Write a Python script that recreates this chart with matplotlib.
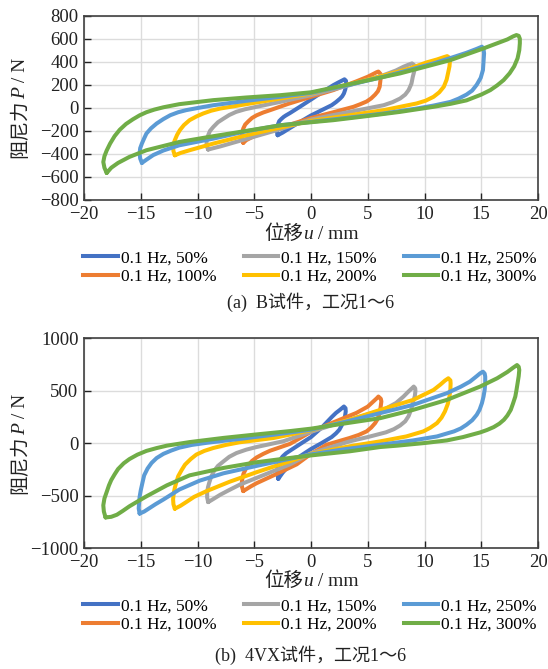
import matplotlib
matplotlib.use("Agg")
import matplotlib.pyplot as plt
from matplotlib.lines import Line2D
from matplotlib.offsetbox import TextArea, HPacker, AnnotationBbox

SERIF = "Liberation Serif"
CJK = "Noto Sans CJK SC"
plt.rcParams["font.family"] = [SERIF, CJK]
plt.rcParams["axes.unicode_minus"] = True

W, H = 548, 669

# ---- legend labels and colours (amplitude ratio at 0.1 Hz) ----
series_labels = ["0.1 Hz, 50%", "0.1 Hz, 100%", "0.1 Hz, 150%",
                 "0.1 Hz, 200%", "0.1 Hz, 250%", "0.1 Hz, 300%"]
series_colors = ["#4472C4", "#ED7D31", "#A5A5A5", "#FFC000", "#5B9BD5", "#70AD47"]
x_ticks = [-20, -15, -10, -5, 0, 5, 10, 15, 20]
yticks_B = [-800, -600, -400, -200, 0, 200, 400, 600, 800]
yticks_V = [-1000, -500, 0, 500, 1000]

# ---- specimen B: displacement u (mm) and damping force P (N), one closed loop per case ----
B50_u = [-2.94, -3.00, -3.00, -2.95, -2.90, -2.80, -2.60, -2.40, -2.20, -1.85, -0.97, 0.00,
         0.94, 1.97, 2.40, 2.70, 2.95, 3.08, 3.10, 3.07, 3.02, 2.90, 2.75, 2.56, 2.20, 1.82,
         0.94, 0.00, -0.97, -1.85, -2.50, -2.94]
B50_P = [-238, -210, -190, -160, -140, -115, -95, -78, -65, -45, 10, 72,
         133, 197, 220, 235, 248, 235, 212, 185, 160, 125, 100, 80, 50, 23,
         -20, -66, -122, -175, -215, -238]

B100_u = [-5.97, -6.08, -6.10, -6.05, -5.97, -5.80, -5.50, -5.20, -4.80, -4.20, -3.60, -2.00,
          0.00, 1.97, 4.00, 5.00, 5.50, 5.80, 5.94, 6.12, 6.15, 6.10, 6.05, 5.90, 5.65, 5.30,
          4.90, 4.30, 3.74, 1.97, 0.00, -1.85, -3.90, -5.00, -5.70, -5.97]
B100_P = [-304, -270, -240, -210, -180, -145, -115, -88, -65, -40, -20, 35,
          96, 154, 230, 270, 295, 310, 315, 295, 270, 225, 183, 145, 115, 82,
          55, 30, 9, -38, -88, -145, -205, -245, -280, -304]

B150_u = [-9.06, -9.20, -9.20, -9.15, -9.06, -8.90, -8.60, -8.20, -7.70, -7.20, -6.60, -5.80,
          -4.80, -2.70, 0.00, 3.40, 6.40, 7.50, 8.15, 8.60, 8.90, 9.10, 9.15, 9.05, 8.97, 8.85,
          8.60, 8.30, 7.85, 7.20, 6.40, 3.40, 0.00, -2.70, -5.70, -8.00, -8.60, -9.06]
B150_P = [-362, -330, -296, -265, -238, -200, -165, -125, -93, -62, -35, -12,
          9, 52, 110, 197, 284, 325, 357, 375, 386, 370, 342, 300, 270, 210,
          154, 115, 81, 50, 23, -35, -101, -185, -270, -335, -350, -362]

B200_u = [-12.0, -12.12, -12.15, -12.1, -12.0, -11.8, -11.56, -11.2, -10.7, -10.1, -9.5, -8.8,
          -8.0, -5.7, -2.7, 0.0, 4.9, 8.7, 10.2, 11.1, 11.7, 12.0, 12.2, 12.25, 12.2, 12.1,
          11.95, 11.7, 11.3, 10.8, 10.1, 9.3, 6.4, 3.4, 0.0, -2.7, -5.7, -8.6, -10.7, -11.5,
          -12.0]
B200_P = [-412, -375, -339, -310, -281, -235, -194, -150, -107, -75, -49, -25,
          -6, 32, 81, 125, 241, 342, 395, 420, 440, 449, 435, 415, 360, 313,
          245, 183, 135, 96, 62, 38, -20, -64, -113, -171, -238, -310, -368, -392,
          -412]

B250_u = [-14.9, -15.05, -15.1, -15.05, -14.9, -14.7, -14.5, -14.1, -13.6, -13.0, -12.4, -11.7,
          -11.0, -9.8, -8.6, -5.7, -2.7, 0.0, 3.4, 6.4, 8.7, 10.8, 12.4, 13.7, 14.6, 15.06,
          15.2, 15.25, 15.2, 15.15, 14.95, 14.6, 14.2, 13.7, 13.0, 12.3, 10.8, 9.3, 6.4, 3.4,
          0.0, -2.7, -5.7, -8.6, -11.6, -13.0, -13.9, -14.5, -14.9]
B250_P = [-478, -440, -397, -350, -310, -265, -223, -178, -136, -97, -64, -38,
          -20, 2, 23, 61, 96, 130, 200, 270, 330, 386, 436, 478, 512, 531,
          510, 473, 400, 328, 260, 200, 150, 115, 80, 52, 20, -6, -49, -84,
          -122, -151, -203, -267, -325, -370, -410, -450, -478]

B300_u = [-18.0, -18.2, -18.3, -18.2, -18.0, -17.7, -17.3, -16.85, -16.3, -15.7, -15.1, -14.5,
          -13.8, -13.0, -11.6, -8.6, -5.7, -2.7, 0.0, 3.44, 7.85, 12.3, 15.2, 17.3, 17.8, 18.1,
          18.3, 18.4, 18.4, 18.35, 18.2, 17.9, 17.5, 16.97, 16.4, 15.8, 15.0, 13.7, 12.3, 10.8,
          7.85, 4.9, 1.97, 0.0, -2.7, -5.7, -8.6, -11.6, -14.5, -16.0, -17.0, -17.6, -18.0]
B300_P = [-565, -520, -470, -420, -370, -310, -245, -190, -140, -100, -65, -38,
          -15, 5, 32, 67, 90, 110, 135, 206, 299, 415, 516, 594, 620, 632,
          625, 600, 560, 500, 430, 360, 300, 241, 195, 154, 115, 65, 35, 9,
          -35, -72, -107, -125, -151, -200, -246, -296, -368, -426, -478, -520, -565]

# ---- specimen 4VX ----
V50_u = [-2.88, -2.95, -2.97, -2.93, -2.85, -2.70, -2.50, -2.20, -1.85, -1.00, 0.00, 0.94,
         1.82, 2.20, 2.56, 2.90, 3.04, 3.06, 3.00, 2.85, 2.70, 2.50, 2.20, 1.82, 0.94, 0.00,
         -0.97, -1.85, -2.50, -2.88]
V50_P = [-338, -300, -265, -225, -190, -155, -125, -95, -70, -10, 60, 150,
         250, 290, 320, 351, 335, 304, 260, 209, 170, 130, 95, 60, 3, -54,
         -123, -200, -280, -338]

V100_u = [-5.97, -6.08, -6.10, -6.05, -5.95, -5.75, -5.50, -5.20, -4.80, -4.20, -3.60, -1.85,
          0.00, 1.97, 4.00, 5.00, 5.50, 5.80, 5.94, 6.15, 6.20, 6.12, 6.00, 5.85, 5.65, 5.30,
          4.90, 4.20, 3.40, 1.38, 0.00, -1.26, -3.00, -4.80, -5.30, -5.60, -5.97]
V100_P = [-455, -415, -380, -335, -290, -245, -205, -168, -135, -100, -70, -5,
          110, 200, 290, 350, 400, 430, 446, 425, 399, 335, 272, 228, 193, 150,
          114, 80, 51, -13, -100, -200, -290, -380, -410, -430, -455]

V150_u = [-9.06, -9.15, -9.15, -9.08, -8.97, -8.80, -8.56, -8.20, -7.70, -7.20, -6.56, -5.70,
          -4.80, -2.44, 0.00, 3.40, 6.40, 7.50, 8.15, 8.60, 8.90, 9.05, 9.18, 9.20, 9.15, 9.00,
          8.85, 8.60, 8.30, 7.85, 7.30, 6.60, 5.00, 3.40, 0.00, -1.85, -3.90, -6.30, -7.30,
          -8.00, -8.60, -9.06]
V150_P = [-560, -515, -471, -420, -376, -320, -266, -215, -171, -128, -92, -60,
          -35, 20, 110, 225, 320, 385, 446, 495, 525, 541, 525, 500, 450, 398,
          330, 260, 210, 170, 135, 105, 60, 19, -95, -200, -290, -395, -450,
          -490, -530, -560]

V200_u = [-12.0, -12.12, -12.15, -12.1, -12.0, -11.85, -11.7, -11.4, -11.1, -10.6, -10.1, -9.4,
          -8.6, -7.5, -6.3, -3.3, 0.0, 3.4, 6.1, 9.0, 10.8, 11.4, 11.8, 12.1, 12.28, 12.3,
          12.28, 12.2, 12.05, 11.8, 11.5, 11.1, 10.5, 9.9, 8.4, 6.1, 3.4, 0.0, -1.85, -4.8,
          -7.15, -9.2, -10.3, -11.0, -11.5, -12.0]
V200_P = [-623, -580, -534, -480, -424, -365, -313, -255, -203, -150, -107, -72,
          -44, -15, 10, 51, 125, 225, 319, 414, 509, 560, 598, 620, 600, 572,
          510, 446, 375, 304, 245, 193, 148, 114, 66, 19, -28, -100, -170, -275,
          -365, -455, -510, -560, -595, -623]

V250_u = [-15.1, -15.18, -15.15, -15.1, -15.0, -14.85, -14.7, -14.4, -14.05, -13.6, -13.0, -12.3,
          -11.6, -10.5, -9.2, -6.3, -3.3, 0.0, 3.0, 6.1, 9.0, 11.97, 13.2, 14.0, 14.6, 14.9,
          15.15, 15.3, 15.35, 15.35, 15.3, 15.2, 15.06, 14.85, 14.6, 14.2, 13.7, 13.2, 12.6,
          11.1, 9.0, 6.1, 3.0, 0.0, -2.0, -4.8, -7.7, -9.8, -11.6, -13.0, -13.7, -14.2, -14.7,
          -15.1]
V250_P = [-669, -620, -574, -510, -448, -375, -305, -240, -187, -140, -100, -68,
          -41, -15, 5, 42, 82, 130, 205, 288, 367, 478, 540, 588, 640, 667,
          683, 665, 636, 575, 509, 445, 383, 320, 272, 220, 177, 142, 114,
          66, 28, -13, -55, -105, -150, -215, -285, -355, -440, -535, -580, -615, -650,
          -669]

V300_u = [-18.1, -18.25, -18.3, -18.2, -18.0, -17.8, -17.6, -17.3, -17.0, -16.5, -16.0, -15.3,
          -14.5, -13.6, -12.7, -10.7, -7.7, -4.8, -1.85, 0.0, 3.0, 6.1, 9.0, 11.97, 14.9, 16.4,
          17.3, 17.8, 18.15, 18.3, 18.35, 18.3, 18.2, 18.1, 18.0, 17.8, 17.6, 17.3, 17.0, 16.6,
          16.1, 15.5, 14.9, 13.4, 11.97, 10.0, 7.6, 6.1, 3.4, 0.0, -1.85, -4.8, -7.7, -10.7,
          -12.7, -14.5, -15.3, -16.0, -16.6, -17.1, -17.6, -18.1]
V300_P = [-706, -650, -590, -525, -463, -400, -350, -295, -245, -190, -150, -108,
          -72, -45, -22, 12, 52, 85, 117, 140, 190, 240, 319, 414, 541, 620,
          680, 720, 746, 730, 699, 640, 572, 505, 446, 380, 319, 265, 225, 188,
          155, 127, 104, 60, 28, 3, -22, -35, -76, -115, -139, -180, -234, -305,
          -400, -505, -555, -600, -645, -680, -700, -706]

loops_B = [(B50_u, B50_P), (B100_u, B100_P), (B150_u, B150_P),
           (B200_u, B200_P), (B250_u, B250_P), (B300_u, B300_P)]
loops_V = [(V50_u, V50_P), (V100_u, V100_P), (V150_u, V150_P),
           (V200_u, V200_P), (V250_u, V250_P), (V300_u, V300_P)]

LW = 2.9
TICK_FS = 13.5
LABEL_FS = 14
LEGEND_FS = 12.5
CAPTION_FS = 13

fig = plt.figure(figsize=(W / 100, H / 100), dpi=100)
fig.patch.set_facecolor("white")


def fig_box(left, top, right, bottom):
    return [left / W, 1 - bottom / H, (right - left) / W, (bottom - top) / H]


ax_B = fig.add_axes(fig_box(84, 15.7, 538, 200))
ax_V = fig.add_axes(fig_box(84, 338.4, 538, 548.3))


def draw_panel(ax, loops, ylim, yticks):
    for (u, p), c in zip(loops, series_colors):
        ax.plot(u, p, color=c, lw=LW, solid_joinstyle="round", solid_capstyle="round")
    ax.set_xlim(-20, 20)
    ax.set_ylim(*ylim)
    ax.set_xticks(x_ticks)
    ax.set_yticks(yticks)
    ax.grid(True, color="#dcdcdc", lw=1.0)
    ax.set_axisbelow(True)
    ax.tick_params(direction="in", length=5, width=1.0, labelsize=TICK_FS,
                   colors="#222222", pad=4)
    for s in ax.spines.values():
        s.set_color("#404040")
        s.set_linewidth(1.2)


draw_panel(ax_B, loops_B, (-800, 800), yticks_B)
draw_panel(ax_V, loops_V, (-1000, 1000), yticks_V)

serif_rm = {"family": SERIF, "size": LABEL_FS, "color": "#222222"}
serif_it = {"family": SERIF, "size": LABEL_FS, "style": "italic", "color": "#222222"}
cjk_rm = {"family": CJK, "size": LABEL_FS, "color": "#222222"}


def row_label(x_px, y_px, pieces):
    boxes = [TextArea(s, textprops=kw) for s, kw in pieces]
    pack = HPacker(children=boxes, align="baseline", pad=0, sep=0)
    ab = AnnotationBbox(pack, (x_px / W, 1 - y_px / H), xycoords="figure fraction",
                        box_alignment=(0.5, 0.5), frameon=False, pad=0)
    fig.add_artist(ab)


def column_label(x_base_px, y_center_px, pieces):
    renderer = fig.canvas.get_renderer()
    texts = [fig.text(0, 0, s, rotation=90, rotation_mode="anchor",
                      ha="left", va="baseline", **kw) for s, kw in pieces]
    lengths = [t.get_window_extent(renderer).height for t in texts]
    y = (H - y_center_px) - sum(lengths) / 2
    for t, L in zip(texts, lengths):
        t.set_position((x_base_px / W, y / H))
        y += L


ylabel_pieces = [("阻尼力", cjk_rm), ("P", serif_it), (" / N", serif_rm)]
xlabel_pieces = [("位移", cjk_rm), ("u", serif_it), (" / mm", serif_rm)]

column_label(25, 108, ylabel_pieces)
column_label(25, 444, ylabel_pieces)
row_label(311, 233, xlabel_pieces)
row_label(311, 580, xlabel_pieces)

handles = [Line2D([], [], color=c, lw=LW) for c in series_colors]
for yc in (267.5, 615.5):
    fig.legend(handles, series_labels, ncol=3, loc="center",
               bbox_to_anchor=(310 / W, 1 - yc / H), frameon=False,
               prop={"family": SERIF, "size": LEGEND_FS},
               handlelength=2.0, handletextpad=0.15, columnspacing=1.57,
               labelspacing=0.15, borderaxespad=0, borderpad=0)

fig.text(311 / W, 1 - 302 / H, "(a)  B试件，工况1～6", ha="center", va="center",
         fontsize=CAPTION_FS, color="#222222")
fig.text(311 / W, 1 - 655 / H, "(b)  4VX试件，工况1～6", ha="center", va="center",
         fontsize=CAPTION_FS, color="#222222")

fig.savefig("out.png", dpi=100, facecolor="white")
